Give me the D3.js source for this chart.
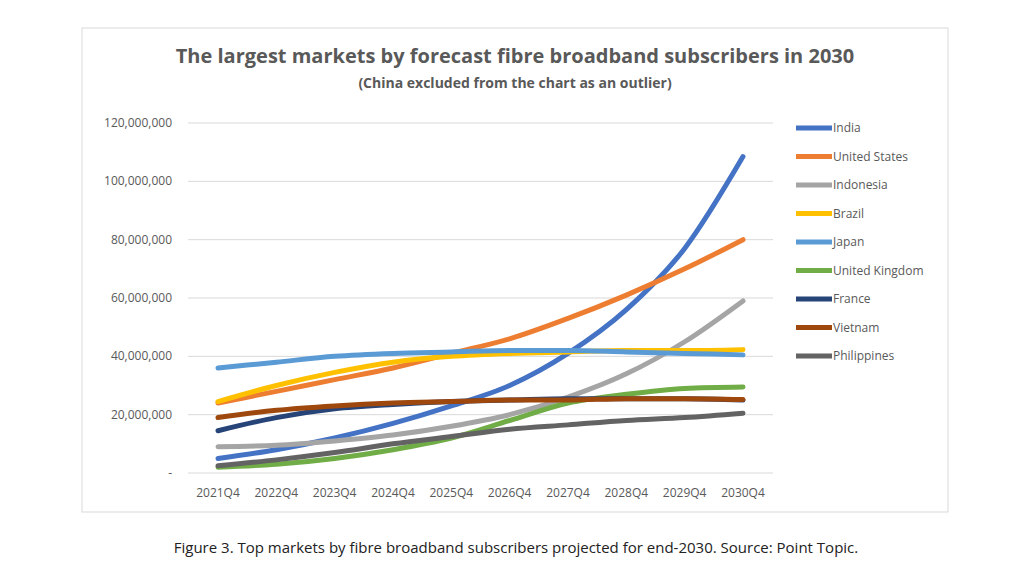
<!DOCTYPE html>
<html><head><meta charset="utf-8">
<script src="https://cdn.jsdelivr.net/npm/d3@7"></script>
<style>body{margin:0;background:#fff;font-family:"Open Sans",Calibri,sans-serif}</style>
</head><body><div id="viz"></div>
<script>
const quarters = ["2021Q4","2022Q4","2023Q4","2024Q4","2025Q4","2026Q4","2027Q4","2028Q4","2029Q4","2030Q4"]
const seriesNames = ["India","United States","Indonesia","Brazil","Japan","United Kingdom","France","Vietnam","Philippines"]
const seriesColors = ["#4472C4","#ED7D31","#A5A5A5","#FFC000","#5B9BD5","#70AD47","#264478","#9E480E","#636363"]
// millions
const india = [5, 8, 12, 17, 23, 30, 41, 56, 77, 108.5]
const unitedStates = [24, 28, 32, 36, 41, 46, 53, 61, 70, 80]
const indonesia = [9, 9.5, 11, 13, 16, 20, 26, 34, 45, 59]
const brazil = [24.5, 30, 34.5, 38, 40, 41, 41.5, 42, 42, 42.3]
const japan = [36, 38, 40, 41, 41.5, 42, 42, 41.5, 41, 40.5]
const unitedKingdom = [2, 3, 5, 8, 12, 18, 24, 27, 29, 29.5]
const france = [14.5, 19, 22, 23.5, 24.5, 25, 25.5, 25.5, 25.5, 25]
const vietnam = [19, 21.5, 23, 24, 24.5, 25, 25, 25.5, 25.5, 25.2]
const philippines = [2.5, 4.5, 7, 10, 12.5, 15, 16.5, 18, 19, 20.5]
const yTicks = [0, 20, 40, 60, 80, 100, 120]

const allSeries = [india, unitedStates, indonesia, brazil, japan, unitedKingdom, france, vietnam, philippines]

const svg = d3.select("#viz").append("svg").attr("width", 1024).attr("height", 576)

svg.append("rect").attr("x", 82).attr("y", 28).attr("width", 866).attr("height", 484)
  .attr("fill", "#fff").attr("stroke", "#d9d9d9")

svg.append("text").attr("x", 515).attr("y", 63).attr("text-anchor", "middle")
  .attr("font-size", 20).attr("font-weight", "bold").attr("fill", "#595959")
  .text("The largest markets by forecast fibre broadband  subscribers in 2030")
svg.append("text").attr("x", 515).attr("y", 88).attr("text-anchor", "middle")
  .attr("font-size", 14).attr("font-weight", "bold").attr("fill", "#595959")
  .text("(China excluded from the chart as an outlier)")

const x = d3.scalePoint().domain(quarters).range([218, 743])
const y = d3.scaleLinear().domain([0, 120]).range([473, 123])

// gridlines
svg.selectAll(".grid").data(yTicks).enter().append("line")
  .attr("x1", 188).attr("x2", 773).attr("y1", d => y(d)).attr("y2", d => y(d))
  .attr("stroke", "#d9d9d9")

svg.selectAll(".ylab").data(yTicks).enter().append("text")
  .attr("x", 172).attr("y", d => y(d) + 4).attr("text-anchor", "end")
  .attr("font-size", 12).attr("fill", "#595959")
  .text(d => d === 0 ? "-" : d3.format(",")(d * 1e6))

svg.selectAll(".xlab").data(quarters).enter().append("text")
  .attr("x", d => x(d)).attr("y", 497).attr("text-anchor", "middle")
  .attr("font-size", 12).attr("fill", "#595959").text(d => d)

const line = d3.line().x((d, i) => x(quarters[i])).y(d => y(d)).curve(d3.curveMonotoneX)

// series order, like the spreadsheet draws them
allSeries.forEach((s, i) => {
  svg.append("path").attr("d", line(s)).attr("fill", "none")
    .attr("stroke", seriesColors[i]).attr("stroke-width", 5).attr("stroke-linecap", "round")
})

const legend = svg.selectAll(".leg").data(seriesNames).enter().append("g")
  .attr("transform", (d, i) => `translate(796,${128 + i * 28.5})`)
legend.append("line").attr("x1", 0).attr("x2", 36).attr("stroke", (d, i) => seriesColors[i]).attr("stroke-width", 5)
legend.append("text").attr("x", 37).attr("y", 4).attr("font-size", 12).attr("fill", "#595959").text(d => d)

svg.append("text").attr("x", 516).attr("y", 553).attr("text-anchor", "middle")
  .attr("font-size", 15).attr("fill", "#222")
  .text("Figure 3. Top markets by fibre broadband subscribers projected for end-2030. Source: Point Topic.")
</script></body></html>
